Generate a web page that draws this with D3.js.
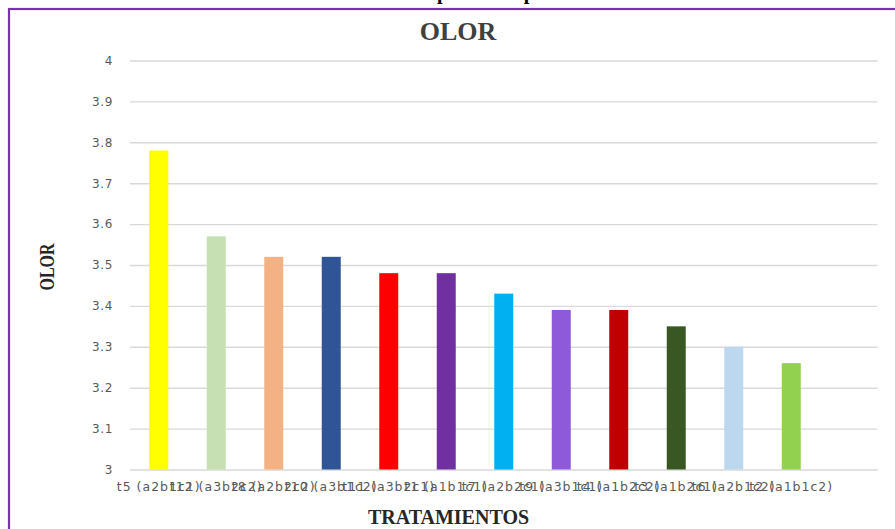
<!DOCTYPE html>
<html>
<head>
<meta charset="utf-8">
<script src="https://cdn.jsdelivr.net/npm/d3@7"></script>
<style>
  html, body { margin: 0; padding: 0; background: #ffffff; }
  svg { display: block; }
</style>
</head>
<body>
<script>
// Olor: puntaje promedio por tratamiento
const categories = [
  "t5 (a2b1c1)", "t12 (a3b2c2)", "t8 (a2b2c2)", "t10 (a3b1c2)",
  "t11 (a3b2c1)", "t1 (a1b1c1)", "t7 (a2b2c1)", "t9 (a3b1c1)",
  "t4 (a1b2c2)", "t3 (a1b2c1)", "t6 (a2b1c2)", "t2 (a1b1c2)"
];
const values = [3.78, 3.57, 3.52, 3.52, 3.48, 3.48, 3.43, 3.39, 3.39, 3.35, 3.30, 3.26];
const barColors = [
  "#FFFF00", "#C6E0B4", "#F4B183", "#2F5597", "#FF0000", "#7030A0",
  "#00B0F0", "#8E5AD9", "#C00000", "#385723", "#BDD7EE", "#92D050"
];
const yTicks = [3, 3.1, 3.2, 3.3, 3.4, 3.5, 3.6, 3.7, 3.8, 3.9, 4];

const W = 895, H = 529;
const svg = d3.select("body").append("svg").attr("width", W).attr("height", H);

// heading above the frame (only its descenders reach into view)
const head = svg.append("text")
  .attr("y", -1)
  .attr("x", 0)
  .style("font-family", "'Liberation Serif', serif")
  .style("font-weight", "bold")
  .style("font-size", "20px")
  .attr("fill", "#000")
  .text("Olor promedio por tratamiento");
const pIdx = head.text().indexOf("p");
const pX = head.node().getStartPositionOfChar(pIdx).x;
head.attr("x", 437 - pX);

// outer frame
svg.append("rect")
  .attr("x", 9).attr("y", 9)
  .attr("width", W + 20).attr("height", H + 20)
  .attr("fill", "none")
  .attr("stroke", "#7535AC")
  .attr("stroke-width", 2.2);

const plot = { left: 130, right: 877.5, top: 60.5, bottom: 469.5 };

// one trailing empty slot keeps the category spacing of the original layout
const x = d3.scaleBand()
  .domain(categories.concat([""]))
  .range([plot.left, plot.right])
  .paddingInner(0.67)
  .paddingOuter(0.335);

const y = d3.scaleLinear()
  .domain([3, 4])
  .range([plot.bottom, plot.top]);

// gridlines
const yAxis = d3.axisLeft(y)
  .tickValues(yTicks)
  .tickSize(-(plot.right - plot.left))
  .tickPadding(17)
  .tickFormat(d3.format("~g"));

const gy = svg.append("g")
  .attr("transform", `translate(${plot.left},0)`)
  .call(yAxis);
gy.select(".domain").remove();
gy.selectAll(".tick line")
  .attr("stroke", "#D9D9D9")
  .attr("stroke-width", 1.4);
gy.selectAll(".tick text")
  .attr("fill", "#595959")
  .style("font-family", "'DejaVu Sans', sans-serif")
  .style("font-size", "12px")
  .style("letter-spacing", "0.6px");

// bars
svg.append("g").selectAll("rect")
  .data(categories)
  .join("rect")
  .attr("x", d => x(d))
  .attr("width", x.bandwidth())
  .attr("y", (d, i) => y(values[i]))
  .attr("height", (d, i) => y(3) - y(values[i]))
  .attr("fill", (d, i) => barColors[i]);

// category labels
const xAxis = d3.axisBottom(x).tickSize(0).tickPadding(13);
const gx = svg.append("g")
  .attr("transform", `translate(0,${plot.bottom})`)
  .call(xAxis);
gx.select(".domain").remove();
gx.selectAll(".tick text")
  .attr("fill", "#595959")
  .style("font-family", "'DejaVu Sans', sans-serif")
  .style("font-size", "12.5px")
  .style("letter-spacing", "1px");

// chart title
svg.append("text")
  .attr("x", 458).attr("y", 40)
  .attr("text-anchor", "middle")
  .attr("fill", "#404040")
  .style("font-family", "'Liberation Serif', serif")
  .style("font-weight", "bold")
  .style("font-size", "26px")
  .text("OLOR");

// axis titles
svg.append("text")
  .attr("transform", "translate(54,267) rotate(-90)")
  .attr("text-anchor", "middle")
  .attr("fill", "#262626")
  .style("font-family", "'Liberation Serif', serif")
  .style("font-weight", "bold")
  .style("font-size", "20px")
  .attr("textLength", 47)
  .attr("lengthAdjust", "spacingAndGlyphs")
  .text("OLOR");

svg.append("text")
  .attr("x", 448.5).attr("y", 524)
  .attr("text-anchor", "middle")
  .attr("fill", "#262626")
  .style("font-family", "'Liberation Serif', serif")
  .style("font-weight", "bold")
  .style("font-size", "20px")
  .text("TRATAMIENTOS");
</script>
</body>
</html>
